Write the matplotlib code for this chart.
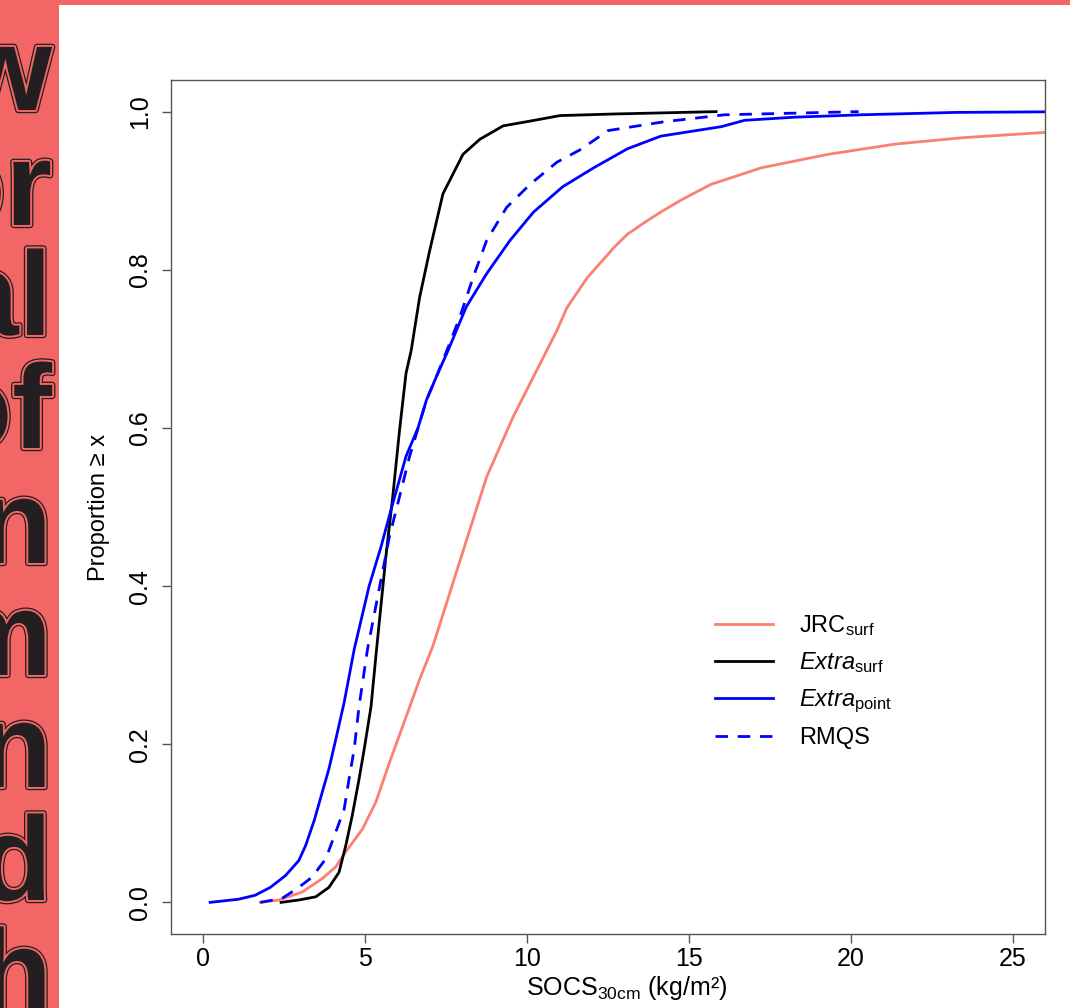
import numpy as np
import matplotlib.pyplot as plt
from matplotlib import patheffects as pe
from matplotlib.patches import Rectangle

plt.rcParams['font.family'] = ['Liberation Sans', 'DejaVu Sans']
plt.rcParams['mathtext.fontset'] = 'custom'
plt.rcParams['mathtext.rm'] = 'Liberation Sans'
plt.rcParams['mathtext.it'] = 'Liberation Sans:italic'

# curves (SOCS 30cm in kg/m2, cumulative proportion)
jrc_x = [1.76, 2.33, 3.05, 3.67, 4.09, 4.4, 4.92, 5.33, 5.75, 6.16, 6.68, 7.09, 7.71,
         8.23, 8.75, 9.57, 10.2, 10.92, 11.23, 11.86, 12.68, 13.1, 13.71, 14.13, 14.75,
         15.68, 17.24, 19.3, 21.38, 23.45, 26.1, 27.0]
jrc_y = [0.0, 0.003, 0.013, 0.03, 0.045, 0.064, 0.093, 0.127, 0.177, 0.223, 0.282, 0.324,
         0.404, 0.471, 0.538, 0.614, 0.665, 0.723, 0.752, 0.79, 0.828, 0.845, 0.862,
         0.873, 0.888, 0.908, 0.929, 0.946, 0.959, 0.967, 0.974, 0.976]

surf_x = [2.4, 2.95, 3.47, 3.88, 4.19, 4.4, 4.6, 4.81, 4.97, 5.18, 5.35, 5.64, 5.85, 6.06,
          6.26, 6.42, 6.68, 6.99, 7.4, 8.02, 8.54, 9.26, 10.09, 11.02, 12.68, 15.84]
surf_y = [0.0, 0.003, 0.007, 0.019, 0.038, 0.072, 0.11, 0.156, 0.194, 0.248, 0.32, 0.438,
          0.513, 0.597, 0.669, 0.698, 0.765, 0.824, 0.896, 0.946, 0.965, 0.982, 0.988,
          0.995, 0.997, 1.0]

point_x = [0.21, 1.09, 1.6, 2.07, 2.54, 2.95, 3.16, 3.42, 3.67, 3.88, 4.09, 4.35, 4.66,
           5.12, 5.49, 5.8, 6.26, 6.63, 6.89, 7.2, 7.56, 8.12, 8.75, 9.47, 10.2, 11.1,
           12.06, 13.1, 14.13, 16.0, 16.72, 18.27, 20.34, 23.24, 27.0]
point_y = [0.0, 0.004, 0.009, 0.019, 0.034, 0.053, 0.072, 0.103, 0.139, 0.169, 0.206,
           0.253, 0.32, 0.40, 0.45, 0.497, 0.564, 0.60, 0.635, 0.665, 0.698, 0.753, 0.795,
           0.837, 0.873, 0.905, 0.929, 0.953, 0.969, 0.981, 0.989, 0.993, 0.996, 0.999, 1.0]

rmqs_x = [1.76, 2.43, 2.95, 3.36, 3.78, 4.09, 4.35, 4.5, 4.66, 4.81, 5.07, 5.43, 5.75,
          6.06, 6.37, 6.68, 6.89, 7.2, 7.61, 7.92, 8.33, 8.75, 9.37, 10.09, 10.92, 11.65,
          12.5, 14.2, 16.1, 20.24]
rmqs_y = [0.0, 0.005, 0.019, 0.032, 0.055, 0.089, 0.118, 0.156, 0.194, 0.248, 0.32, 0.396,
          0.463, 0.513, 0.564, 0.606, 0.635, 0.665, 0.707, 0.74, 0.79, 0.837, 0.879, 0.908,
          0.936, 0.952, 0.976, 0.987, 0.996, 1.0]

x_ticks = [0, 5, 10, 15, 20, 25]
y_ticks = [0.0, 0.2, 0.4, 0.6, 0.8, 1.0]

SALMON_BG = '#F36666'
W, H = 1070, 1008

fig = plt.figure(figsize=(W / 100, H / 100), dpi=100, facecolor=SALMON_BG)
fig.patches.append(Rectangle((59 / W, 0), 1 - 59 / W, 1 - 5 / H, transform=fig.transFigure,
                             facecolor='white', edgecolor='none', zorder=-5))

# cropped poster text on the left strip
words = ['w', 'or', 'al', 'of', 'n', 'm', 'n', 'd', 'h']
baselines = [110, 225, 335, 448, 563, 675, 787, 900, 1013]
for w, b in zip(words, baselines):
    fig.text(52 / W, 1 - b / H, w, ha='right', va='baseline', fontsize=86,
             fontweight='bold', color='#231F20', zorder=1,
             path_effects=[pe.Stroke(linewidth=4.6, foreground='#231F20'),
                           pe.Stroke(linewidth=2.8, foreground=SALMON_BG),
                           pe.Normal()])

ax = fig.add_axes([171 / W, 1 - 934 / H, (1045 - 171) / W, (934 - 80) / H])
ax.set_zorder(3)
ax.patch.set_alpha(0)
ax.plot(jrc_x, jrc_y, color='salmon', lw=2, label='JRC$_\\mathrm{surf}$')
ax.plot(surf_x, surf_y, color='black', lw=2, label='$Extra_\\mathrm{surf}$')
ax.plot(point_x, point_y, color='blue', lw=2, label='$Extra_\\mathrm{point}$')
ax.plot(rmqs_x, rmqs_y, color='blue', lw=2, ls=(0, (4.5, 3.5)), label='RMQS')

ax.set_xlim(-1, 26)
ax.set_ylim(-0.04, 1.04)
ax.set_xticks(x_ticks)
ax.set_yticks(y_ticks)
ax.set_yticklabels([f'{v:.1f}' for v in y_ticks], rotation=90, va='center')
for s in ax.spines.values():
    s.set_color('#555555')
    s.set_linewidth(1)
ax.tick_params(axis='both', colors='#555555', labelcolor='black', length=6.5, width=1,
               labelsize=18)
ax.tick_params(axis='x', pad=3)
ax.tick_params(axis='y', pad=7)

fig.text(99 / W, 1 - 507 / H, 'Proportion \u2265 x', rotation=90, ha='center', va='center',
         fontsize=17, zorder=4)
fig.text(627 / W, 1 - 995 / H, 'SOCS$_\\mathrm{30cm}$ (kg/m\u00b2)', ha='center',
         va='baseline', fontsize=18, zorder=4)

ax.legend(loc='upper left', bbox_to_anchor=(715 / W, 1 - 613 / H),
          bbox_transform=fig.transFigure, frameon=False, fontsize=17, borderpad=0,
          borderaxespad=0, handlelength=2.45, handletextpad=1.1, labelspacing=0.52)

fig.savefig('out.png', dpi=100, facecolor=fig.get_facecolor())
